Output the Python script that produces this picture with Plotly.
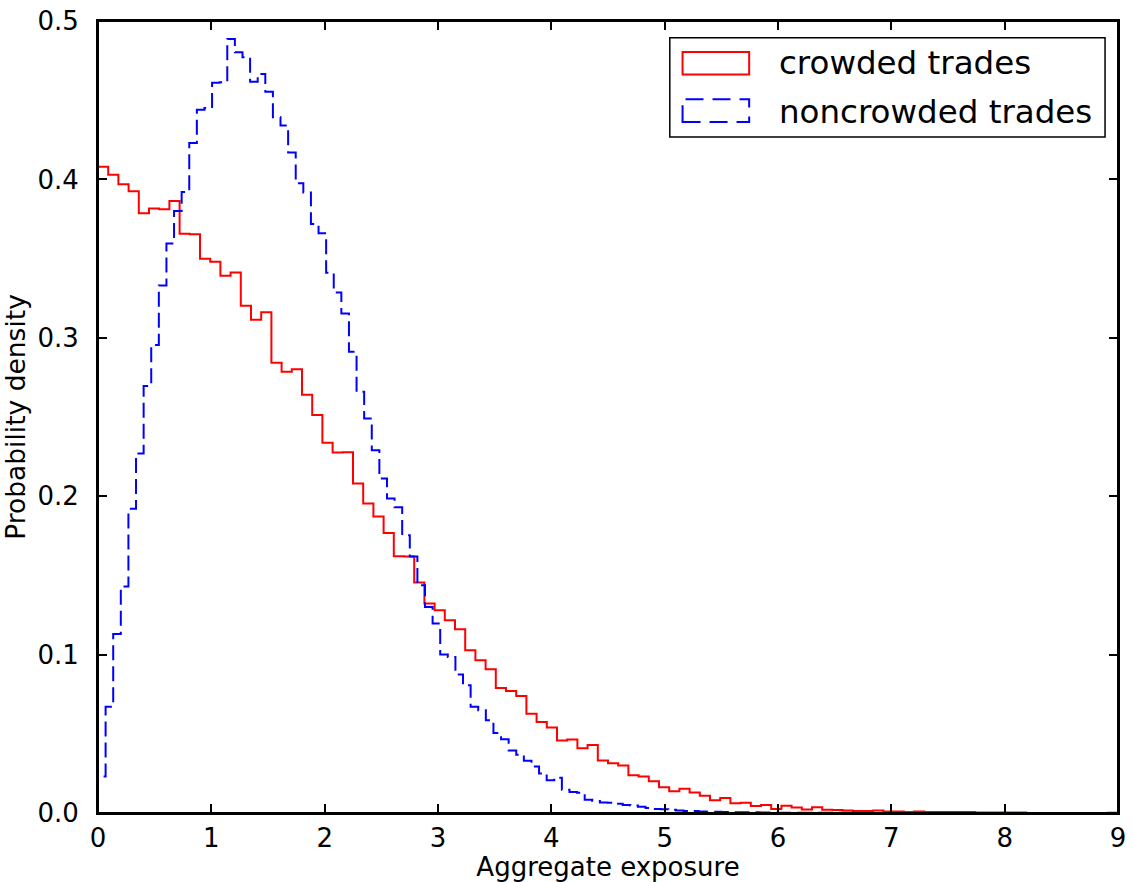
import numpy as np
import plotly.graph_objects as go

# ---------------- data ----------------
crowded_start = 0.0
crowded_bin_width = 0.09
crowded_density = [
    0.408, 0.403, 0.397, 0.3925, 0.3786, 0.3817, 0.3811, 0.3863, 0.3657, 0.3653,
    0.3499, 0.348, 0.3392, 0.3413, 0.3202, 0.3114, 0.3162, 0.2842, 0.2785, 0.2802,
    0.2640, 0.2513, 0.2338, 0.2276, 0.2277, 0.2080, 0.1954, 0.1872, 0.1767, 0.1621,
    0.1620, 0.1455, 0.1322, 0.1280, 0.1217, 0.1160, 0.1027, 0.0964, 0.0907, 0.0789,
    0.0770, 0.0739, 0.0627, 0.0574, 0.0539, 0.0457, 0.0464, 0.0408, 0.0430, 0.0332,
    0.0314, 0.0300, 0.0239, 0.0231, 0.0200, 0.0162, 0.0138, 0.0153, 0.0130, 0.0109,
    0.0080, 0.0094, 0.0061, 0.0065, 0.0044, 0.0050, 0.0025, 0.0046, 0.0035, 0.0022,
    0.0037, 0.0020, 0.0019, 0.0015, 0.0012, 0.0012, 0.0016, 0.0010, 0.0010, 0.0006,
    0.0010, 0.0006, 0.0006, 0.0006, 0.0006, 0.0006, 0.0003, 0.0003, 0.0003, 0.0003,
    0.0003, 0.0, 0.0, 0.0, 0.0, 0.0, 0.0, 0.0, 0.0, 0.0001,
]

noncrowded_start = 0.0
noncrowded_bin_width = 0.0671
noncrowded_density = [
    0.023, 0.067, 0.113, 0.143, 0.192, 0.227, 0.2695, 0.2954, 0.333, 0.3596,
    0.380, 0.392, 0.423, 0.444, 0.445, 0.461, 0.4614, 0.4887, 0.4803, 0.4771,
    0.4617, 0.4666, 0.4554, 0.4392, 0.434, 0.417, 0.3975, 0.3918, 0.3718, 0.366,
    0.341, 0.3286, 0.3154, 0.2912, 0.2659, 0.249, 0.229, 0.2112, 0.1985, 0.193,
    0.1754, 0.162, 0.1438, 0.130, 0.1196, 0.100, 0.0985, 0.0874, 0.0806, 0.067,
    0.0648, 0.0585, 0.0505, 0.0465, 0.0395, 0.0368, 0.033, 0.0294, 0.025, 0.0206,
    0.0223, 0.0147, 0.0132, 0.0128, 0.0084, 0.0075, 0.0067, 0.0065, 0.0058, 0.0050,
    0.0048, 0.0040, 0.0032, 0.0025, 0.0024, 0.0020, 0.0016, 0.0013, 0.0012, 0.0010,
    0.0008, 0.0008, 0.0006, 0.0005, 0.0005, 0.0004, 0.0004, 0.0003, 0.0003, 0.0002,
    0.0001, 0.0001, 0.0001, 0.0001, 0.0001, 0.0001, 0.0001, 0.0001, 0.0001, 0.0001,
]

series_names = ["crowded trades", "noncrowded trades"]
x_title = "Aggregate exposure"
y_title = "Probability density"
x_ticks = [0, 1, 2, 3, 4, 5, 6, 7, 8, 9]
y_ticks = [0.0, 0.1, 0.2, 0.3, 0.4, 0.5]


def step_outline(start, width, dens):
    """Outline of a matplotlib histtype='step' histogram."""
    n = len(dens)
    edges = start + width * np.arange(n + 1)
    xs = np.concatenate([[edges[0]], edges[:-1], [edges[-1]]])
    ys = np.concatenate([[0.0], np.asarray(dens, float), [0.0]])
    return xs, ys


FONT = "DejaVu Sans"
fig = go.Figure()

cx, cy = step_outline(crowded_start, crowded_bin_width, crowded_density)
fig.add_trace(go.Scatter(
    x=cx, y=cy, mode="lines", line=dict(color="#ff0000", width=2, shape="hv"),
    name=series_names[0], showlegend=False, hoverinfo="skip",
))
nx, ny = step_outline(noncrowded_start, noncrowded_bin_width, noncrowded_density)
fig.add_trace(go.Scatter(
    x=nx, y=ny, mode="lines",
    line=dict(color="#0000ff", width=2, shape="hv", dash="15px,6px"),
    name=series_names[1], showlegend=False, hoverinfo="skip",
))

axis_common = dict(
    showgrid=False, zeroline=False, showline=True, linecolor="black", linewidth=2,
    mirror="ticks", ticks="inside", ticklen=9, tickwidth=1.5, tickcolor="black",
    tickfont=dict(family=FONT, size=26, color="black"),
)
fig.update_xaxes(
    range=[x_ticks[0], x_ticks[-1]], tickvals=x_ticks, ticklabelstandoff=1,
    title=dict(text=x_title, font=dict(family=FONT, size=26, color="black"), standoff=11),
    **axis_common,
)
fig.update_yaxes(
    range=[y_ticks[0], y_ticks[-1]], tickvals=y_ticks, tickformat=".1f", ticklabelstandoff=12,
    title=dict(text=y_title, font=dict(family=FONT, size=26.5, color="black"), standoff=5),
    **axis_common,
)

# axes frame drawn on top (like matplotlib spines)
fig.add_shape(type="rect", xref="paper", yref="paper", x0=0, x1=1, y0=0, y1=1,
              line=dict(color="black", width=2), fillcolor="rgba(0,0,0,0)", layer="above")

# custom legend matching matplotlib patch-style entries
legend_font = dict(family=FONT, size=32.5, color="black")
fig.add_shape(type="rect", xref="paper", yref="paper", x0=0.5606, x1=0.9873, y0=0.8536, y1=0.9787,
              line=dict(color="black", width=1.5), fillcolor="white", layer="above")
fig.add_shape(type="rect", xref="paper", yref="paper", x0=0.5731, x1=0.6384, y0=0.9323, y1=0.961,
              line=dict(color="#ff0000", width=2), fillcolor="rgba(0,0,0,0)", layer="above")
fig.add_shape(type="rect", xref="paper", yref="paper", x0=0.5731, x1=0.6384, y0=0.8725, y1=0.9012,
              line=dict(color="#0000ff", width=2, dash="18px,9px"), fillcolor="rgba(0,0,0,0)",
              layer="above")
fig.add_annotation(xref="paper", yref="paper", x=0.6653, y=0.9467, text=series_names[0],
                   showarrow=False, xanchor="left", yanchor="middle", font=legend_font)
fig.add_annotation(xref="paper", yref="paper", x=0.6653, y=0.8855, text=series_names[1],
                   showarrow=False, xanchor="left", yanchor="middle", font=legend_font)

fig.update_layout(
    width=1133, height=882,
    margin=dict(l=98, r=15, t=21, b=69, autoexpand=False),
    paper_bgcolor="white", plot_bgcolor="white",
    font=dict(family=FONT, color="black"),
)

fig.write_html("out.html", config={"displayModeBar": False},
               post_script="document.body.style.margin='0px';")
